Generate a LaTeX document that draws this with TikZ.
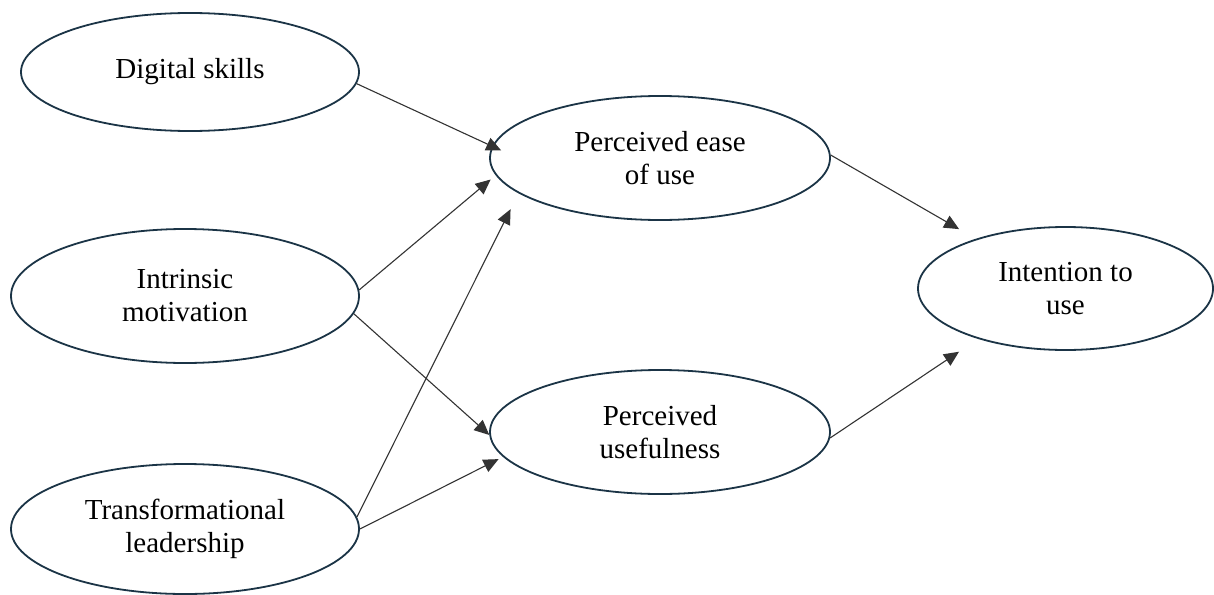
\documentclass[tikz,border=0pt]{standalone}
\usepackage{fontspec}
\setmainfont{Liberation Serif}
\usetikzlibrary{shapes.geometric,arrows.meta}
\definecolor{edgeblue}{HTML}{1B3446}
\definecolor{arrowgray}{HTML}{333333}
\begin{document}
\begin{tikzpicture}[x=1pt,y=-1pt,
  construct/.style={ellipse,draw=edgeblue,line width=1.8pt,inner sep=0pt,align=center,
    text=black,font=\fontsize{29}{33}\selectfont},
  link/.style={draw=arrowgray,line width=1.1pt,-{Triangle[length=15pt,width=13.5pt]}}]
\useasboundingbox[fill=white] (0,0) rectangle (1214,594);
\node[construct,minimum width=338pt,minimum height=118pt] (ds) at (190,72) {Digital skills};
\node[construct,minimum width=348pt,minimum height=134pt] (im) at (185,296) {Intrinsic\\motivation};
\node[construct,minimum width=348pt,minimum height=130pt] (tl) at (185,529) {Transformational\\leadership};
\node[construct,minimum width=340pt,minimum height=124pt] (peou) at (660,158) {Perceived ease\\of use};
\node[construct,minimum width=340pt,minimum height=124pt] (pu) at (660,432) {Perceived\\usefulness};
\node[construct,minimum width=295pt,minimum height=123pt] (iu) at (1065.5,288.5) {Intention to\\use};
\draw[link,shorten >=-10pt] (ds.-4.4) -- (peou.176.2);
\draw[link,shorten >=6.6pt] (im.2.3) -- (peou.186.2);
\draw[link,shorten >=17.8pt] (tl.4.6) -- (peou.194.1);
\draw[link] (im.-6.2) -- (pu.181);
\draw[link,shorten >=5pt] (tl.-0.5) -- (pu.189.9);
\draw[link,shorten >=19.3pt] (peou.1) -- (iu.151);
\draw[link,shorten >=23pt] (pu.-2) -- (iu.210);
\end{tikzpicture}
\end{document}
